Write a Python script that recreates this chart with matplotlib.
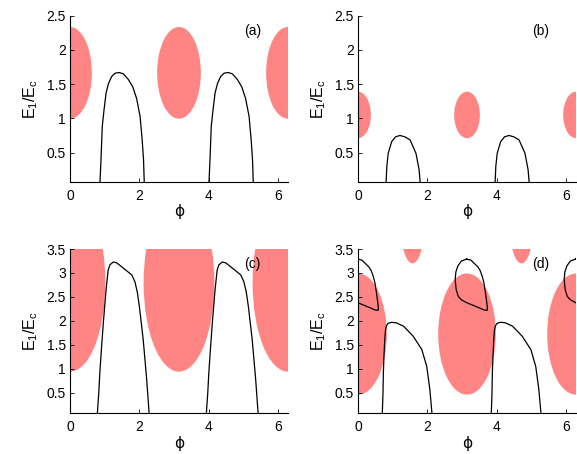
import numpy as np
import matplotlib
matplotlib.use('Agg')
import matplotlib.pyplot as plt
from matplotlib.patches import Ellipse

plt.rcParams['font.family'] = ['Liberation Sans', 'DejaVu Sans']
plt.rcParams['mathtext.fontset'] = 'custom'
plt.rcParams['mathtext.rm'] = 'Liberation Sans'
plt.rcParams['mathtext.default'] = 'regular'

PINK = '#ff8585'

# pink regions: ellipse centres (phi), centre E, width, height
blob_phi = [0, np.pi, 2 * np.pi]
blob_a = (1.665, 1.26, 1.34)
blob_b = (1.05, 0.74, 0.68)
blob_c = (2.80, 2.04, 3.72)
blob_d = (1.725, 1.66, 2.53)
# small pink drops at the top of (d)
drop_phi = [np.pi / 2, 3 * np.pi / 2]
drop_d = (3.9, 0.64, 1.4)

# black curves, first period only (second one is shifted by pi)
arch_a_phi = [0.865, 0.893, 0.93, 0.98, 1.04, 1.11, 1.20, 1.30, 1.42, 1.54, 1.68,
              1.81, 1.92, 2.02, 2.08, 2.12, 2.14]
arch_a_E = [0.07, 0.39, 0.88, 1.12, 1.37, 1.51, 1.61, 1.66, 1.67, 1.65, 1.57,
            1.46, 1.29, 1.03, 0.69, 0.39, 0.07]

arch_b_phi = [0.81, 0.83, 0.87, 0.97, 1.08, 1.21, 1.35, 1.50, 1.67, 1.76, 1.79]
arch_b_E = [0.07, 0.30, 0.49, 0.66, 0.73, 0.75, 0.73, 0.685, 0.49, 0.25, 0.07]

arch_c_phi = [0.79, 0.83, 0.86, 0.91, 0.96, 1.04, 1.10, 1.15, 1.25, 1.35, 1.54,
              1.78, 1.87, 1.94, 2.00, 2.11, 2.21, 2.28]
arch_c_E = [0.08, 0.50, 0.92, 1.45, 1.95, 2.65, 3.06, 3.17, 3.23, 3.21, 3.10,
            2.96, 2.82, 2.60, 2.30, 1.61, 0.78, 0.08]

arch_d_phi = [0.70, 0.72, 0.73, 0.75, 0.77, 0.79, 0.82, 0.87, 0.97, 1.10, 1.31,
              1.59, 1.84, 1.98, 2.07, 2.13]
arch_d_E = [0.08, 0.50, 0.92, 1.30, 1.61, 1.80, 1.90, 1.95, 1.97, 1.96, 1.89,
            1.68, 1.40, 1.05, 0.57, 0.08]

# closed loop in (d) around phi = pi (repeated every pi)
loop_phi = [3.13, 3.25, 3.35, 3.45, 3.52, 3.58, 3.63, 3.67, 3.70, 3.73, 3.72, 3.62,
            3.50, 3.30, 3.13, 2.98, 2.89, 2.83, 2.80, 2.82, 2.88, 2.98, 3.13]
loop_E = [3.29, 3.27, 3.20, 3.13, 3.05, 2.93, 2.79, 2.60, 2.44, 2.26, 2.22, 2.23,
          2.27, 2.33, 2.38, 2.44, 2.51, 2.65, 2.86, 3.02, 3.15, 3.25, 3.29]

panels = [
    ('(a)', [0.1213, 0.5991, 0.3778, 0.3663], 2.5, blob_a, arch_a_phi, arch_a_E, 2.28),
    ('(b)', [0.6205, 0.5991, 0.3778, 0.3663], 2.5, blob_b, arch_b_phi, arch_b_E, 2.28),
    ('(c)', [0.1213, 0.0896, 0.3778, 0.3619], 3.5, blob_c, arch_c_phi, arch_c_E, 3.19),
    ('(d)', [0.6205, 0.0896, 0.3778, 0.3619], 3.5, blob_d, arch_d_phi, arch_d_E, 3.19),
]

fig = plt.figure(figsize=(5.77, 4.54), dpi=100)

for tag, rect, ytop, blob, aphi, aE, ytag in panels:
    ax = fig.add_axes(rect)
    for p in blob_phi:
        ax.add_patch(Ellipse((p, blob[0]), blob[1], blob[2], facecolor=PINK,
                             edgecolor='none', zorder=1))
    if tag == '(d)':
        for p in drop_phi:
            ax.add_patch(Ellipse((p, drop_d[0]), drop_d[1], drop_d[2], facecolor=PINK,
                                 edgecolor='none', zorder=1))
        for k in (-1, 0, 1):
            ax.plot(np.array(loop_phi) + k * np.pi, loop_E, color='black', lw=0.9, zorder=2)
    for k in (0, 1):
        ax.plot(np.array(aphi) + k * np.pi, aE, color='black', lw=0.9, zorder=2)

    ax.set_xlim(0, 2 * np.pi)
    ax.set_ylim(0.07, ytop)
    ax.set_xticks([0, 2, 4, 6])
    ax.set_yticks(np.arange(0.5, ytop + 0.01, 0.5))
    ax.set_yticklabels([('%g' % v) for v in np.arange(0.5, ytop + 0.01, 0.5)])
    ax.spines['top'].set_visible(False)
    ax.spines['right'].set_visible(False)
    for s in ('left', 'bottom'):
        ax.spines[s].set_linewidth(0.8)
    ax.tick_params(direction='in', length=3, width=0.6, labelsize=10)
    ax.tick_params(axis='x', pad=5)
    ax.tick_params(axis='y', pad=3)
    ax.set_xlabel('\u03d5', fontsize=11, family=['DejaVu Sans'], labelpad=1)
    ax.set_ylabel('$E_1/E_c$', fontsize=11.5, labelpad=5)
    ax.text(5.26, ytag, tag, fontsize=10, ha='center', va='center')

fig.savefig('out.png', dpi=100)
